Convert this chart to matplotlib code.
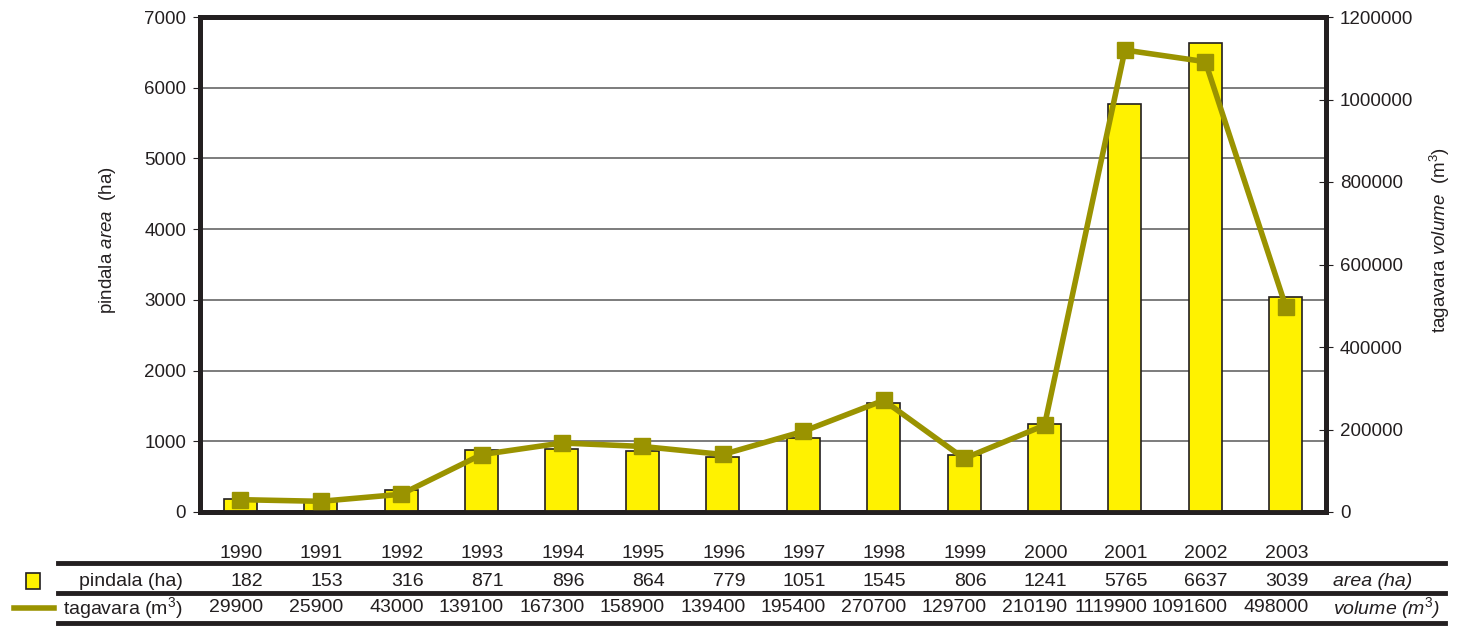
import numpy as np
import matplotlib.pyplot as plt
import matplotlib.transforms as mtransforms
from matplotlib.lines import Line2D
from matplotlib.patches import Rectangle
from matplotlib.ticker import FuncFormatter

plt.rcParams['font.family'] = ['Liberation Sans', 'DejaVu Sans']
plt.rcParams['mathtext.fontset'] = 'custom'
plt.rcParams['mathtext.rm'] = 'Liberation Sans'
plt.rcParams['mathtext.it'] = 'Liberation Sans:italic'

years = ['1990', '1991', '1992', '1993', '1994', '1995', '1996',
         '1997', '1998', '1999', '2000', '2001', '2002', '2003']
area = [182, 153, 316, 871, 896, 864, 779, 1051, 1545, 806, 1241, 5765, 6637, 3039]
volume = [29900, 25900, 43000, 139100, 167300, 158900, 139400, 195400,
          270700, 129700, 210190, 1119900, 1091600, 498000]

bar_col = '#fff200'
line_col = '#9a9300'
ink = '#231f20'

W, H = 1457, 629
fig = plt.figure(figsize=(W / 100, H / 100), dpi=100)
ax = fig.add_axes([200 / W, 1 - 512 / H, 1126 / W, 495 / H])
ax2 = ax.twinx()

fs = 13.5
fst = 14
x = np.arange(len(years))
ax.bar(x, area, width=0.41, color=bar_col, edgecolor=ink, linewidth=1.2, zorder=3)
ax.set_xlim(-0.5, len(years) - 0.5)
ax.set_ylim(0, 7000)
ax.set_yticks(range(0, 7001, 1000))
ax.set_xticks([])
ax.grid(axis='y', color='#666666', linewidth=1.2, zorder=0)
ax.set_axisbelow(True)
ax.tick_params(axis='y', labelsize=fs, length=5, direction='out', colors=ink, pad=5)
ax.set_ylabel('pindala $\\it{area}$  (ha)', fontsize=fs, color=ink, va='center')
ax.yaxis.set_label_coords(-0.082, 0.55)

ax2.plot(x, volume, color=line_col, linewidth=4, marker='s', markersize=11, zorder=4)
ax2.set_ylim(0, 1200000)
ax2.set_yticks(range(0, 1200001, 200000))
ax2.yaxis.set_major_formatter(FuncFormatter(lambda v, p: '%d' % v))
ax2.tick_params(axis='y', labelsize=fs, length=10, direction='inout', colors=ink, pad=5)
ax2.set_ylabel('tagavara $\\it{volume}$  (m$^3$)', fontsize=fs, color=ink, va='center')
ax2.yaxis.set_label_coords(1.101, 0.55)

for a in (ax, ax2):
    for s in a.spines.values():
        s.set_linewidth(3.5)
        s.set_color(ink)

# data table below the chart
trans = mtransforms.blended_transform_factory(ax.transData, fig.transFigure)
y_year = 1 - 553 / H
y_area = 1 - 581 / H
y_vol = 1 - 608 / H
for i in range(len(years)):
    xr = i + 0.28
    ax.text(xr, y_year, years[i], transform=trans, ha='right', va='center', fontsize=fst, color=ink)
    ax.text(xr, y_area, str(area[i]), transform=trans, ha='right', va='center', fontsize=fst, color=ink)
    ax.text(xr, y_vol, str(volume[i]), transform=trans, ha='right', va='center', fontsize=fst, color=ink)

for yy in (563, 593, 623):
    fig.add_artist(Line2D([58 / W, 1445 / W], [1 - yy / H] * 2, color=ink, linewidth=3.5))

fig.text(183 / W, y_area, 'pindala (ha)', ha='right', va='center', fontsize=fst, color=ink)
fig.text(183 / W, y_vol, 'tagavara (m$^3$)', ha='right', va='center', fontsize=fst, color=ink)
fig.text(1333 / W, y_area, 'area (ha)', ha='left', va='center', fontsize=fst, style='italic', color=ink)
fig.text(1333 / W, y_vol, 'volume (m$^3$)', ha='left', va='center', fontsize=fst, style='italic', color=ink)

fig.add_artist(Rectangle((26 / W, 1 - 589 / H), 14 / W, 16 / H, facecolor=bar_col,
                         edgecolor=ink, linewidth=1.2, transform=fig.transFigure))
fig.add_artist(Line2D([14 / W, 54 / W], [1 - 608 / H] * 2, color=line_col, linewidth=4))

fig.savefig('out.png', dpi=100)
